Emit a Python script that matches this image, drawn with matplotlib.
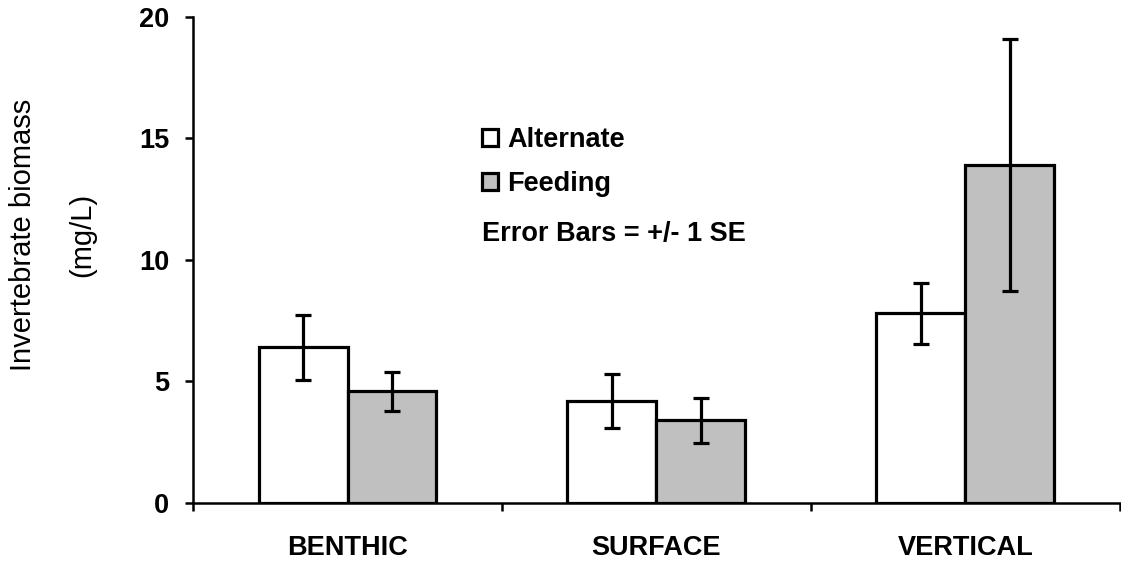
import numpy as np
import matplotlib
matplotlib.use('Agg')
import matplotlib.pyplot as plt
from matplotlib.patches import Patch

plt.rcParams['font.family'] = ['Liberation Sans', 'DejaVu Sans']

categories = ['BENTHIC', 'SURFACE', 'VERTICAL']
alternate = [6.4, 4.2, 7.8]
alternate_se = [1.35, 1.12, 1.25]
feeding = [4.6, 3.4, 13.9]
feeding_se = [0.80, 0.94, 5.18]

fig = plt.figure(figsize=(11.21, 5.63), dpi=100)
ax = fig.add_axes([0.1722, 0.1066, 0.8268, 0.8632])

x = np.arange(len(categories))
w = 0.288
ekw = dict(elinewidth=2.3, capthick=2.3, capsize=5.5, ecolor='black')

ax.bar(x - w/2, alternate, w, color='white', edgecolor='black', linewidth=2.3,
       yerr=alternate_se, error_kw=ekw, label='Alternate', zorder=2)
ax.bar(x + w/2, feeding, w, color='#c0c0c0', edgecolor='black', linewidth=2.3,
       yerr=feeding_se, error_kw=ekw, label='Feeding', zorder=2)

ax.set_xlim(-0.5, 2.5)
ax.set_ylim(0, 20)
ax.set_yticks([0, 5, 10, 15, 20])
ax.set_xticks(x)
ax.set_xticklabels(categories, fontsize=19.5, fontweight='bold')
ax.set_xticks([-0.5, 0.5, 1.5, 2.5], minor=True)
ax.tick_params(axis='x', which='major', length=0, pad=23)
ax.tick_params(axis='x', which='minor', length=6, width=1.8, direction='out')
ax.tick_params(axis='y', length=6, width=1.8, direction='out', pad=11, labelsize=19.5)
for t in ax.get_yticklabels():
    t.set_fontweight('bold')

for s in ['top', 'right']:
    ax.spines[s].set_visible(False)
for s in ['left', 'bottom']:
    ax.spines[s].set_linewidth(1.8)

# legend + note
handles = [Patch(facecolor='white', edgecolor='black', linewidth=2.3),
           Patch(facecolor='#c0c0c0', edgecolor='black', linewidth=2.3)]
ax.legend(handles, ['Alternate', 'Feeding'], frameon=False, loc='upper left',
          bbox_to_anchor=(0.312, 0.774), borderaxespad=0, borderpad=0,
          prop=dict(size=19.5, weight='bold'),
          handlelength=0.57, handleheight=0.57, handletextpad=0.36, labelspacing=0.68)
ax.text(0.312, 0.553, 'Error Bars = +/- 1 SE', transform=ax.transAxes,
        fontsize=19.5, fontweight='bold', va='center', ha='left')

fig.text(0.047, 0.583, 'Invertebrate biomass\n(mg/L)', rotation=90, fontsize=21,
         ha='center', va='center', multialignment='center', linespacing=2.4)

fig.savefig('out.png', dpi=100)
